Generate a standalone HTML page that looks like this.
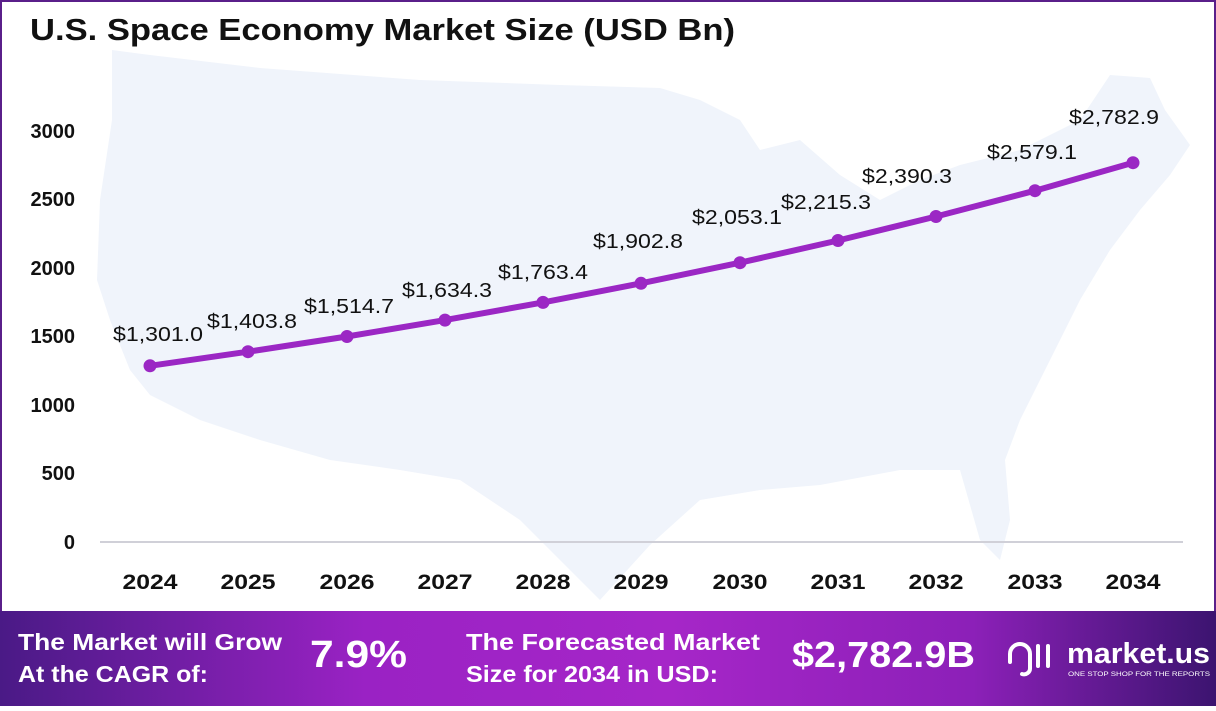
<!DOCTYPE html>
<html><head><meta charset="utf-8"><style>
html,body{margin:0;padding:0;}
body{width:1216px;height:706px;overflow:hidden;font-family:"Liberation Sans",sans-serif;}
</style></head><body>
<svg width="1216" height="706" viewBox="0 0 1216 706" xmlns="http://www.w3.org/2000/svg">
<defs>
<linearGradient id="ft" x1="0" y1="0" x2="1" y2="0">
<stop offset="0" stop-color="#4a1a86"/><stop offset="0.3" stop-color="#9a22c4"/><stop offset="0.55" stop-color="#a626c8"/><stop offset="0.8" stop-color="#8c20b8"/><stop offset="1" stop-color="#3c1470"/>
</linearGradient>
</defs>
<rect width="1216" height="706" fill="#fff"/>
<rect x="1" y="1" width="1214" height="704" fill="none" stroke="#5a1f8a" stroke-width="2"/>
<path d="M112,50 L150,55 L260,68 L420,80 L560,85 L660,88 L700,100 L740,120 L760,150 L800,140 L840,175 L880,200 L920,180 L960,165 L1020,150 L1080,120 L1110,75 L1150,78 L1165,110 L1190,145 L1170,175 L1140,210 L1110,250 L1080,300 L1060,340 L1040,380 L1020,420 L1005,460 L1010,520 L1000,560 L980,540 L960,470 L900,470 L820,485 L760,490 L700,500 L650,545 L600,600 L560,560 L520,520 L460,480 L400,470 L330,460 L260,440 L200,420 L150,395 L130,370 L110,320 L97,280 L100,200 L112,120 Z" fill="#f0f4fb"/>
<text x="30" y="40" font-size="31" font-weight="bold" fill="#111" textLength="705" lengthAdjust="spacingAndGlyphs">U.S. Space Economy Market Size (USD Bn)</text>
<g font-size="20" font-weight="bold" fill="#111" text-anchor="end">
<text x="75" y="138">3000</text><text x="75" y="206">2500</text><text x="75" y="275">2000</text><text x="75" y="343">1500</text><text x="75" y="412">1000</text><text x="75" y="480">500</text><text x="75" y="549">0</text>
</g>
<line x1="100" y1="542" x2="1183" y2="542" stroke="#d0d0d8" stroke-width="2"/>
<g font-size="21" font-weight="bold" fill="#111" text-anchor="middle">
<text x="150" y="589" textLength="55" lengthAdjust="spacingAndGlyphs">2024</text><text x="248" y="589" textLength="55" lengthAdjust="spacingAndGlyphs">2025</text><text x="347" y="589" textLength="55" lengthAdjust="spacingAndGlyphs">2026</text><text x="445" y="589" textLength="55" lengthAdjust="spacingAndGlyphs">2027</text><text x="543" y="589" textLength="55" lengthAdjust="spacingAndGlyphs">2028</text><text x="641" y="589" textLength="55" lengthAdjust="spacingAndGlyphs">2029</text><text x="740" y="589" textLength="55" lengthAdjust="spacingAndGlyphs">2030</text><text x="838" y="589" textLength="55" lengthAdjust="spacingAndGlyphs">2031</text><text x="936" y="589" textLength="55" lengthAdjust="spacingAndGlyphs">2032</text><text x="1035" y="589" textLength="55" lengthAdjust="spacingAndGlyphs">2033</text><text x="1133" y="589" textLength="55" lengthAdjust="spacingAndGlyphs">2034</text>
</g>
<polyline fill="none" stroke="#9b27c4" stroke-width="6" stroke-linejoin="round" points="150,365.8 248,351.7 347,336.5 445,320.1 543,302.4 641,283.3 740,262.7 838,240.5 936,216.5 1035,190.7 1133,162.7"/>
<g fill="#9b27c4">
<circle cx="150" cy="365.8" r="6.5"/><circle cx="248" cy="351.7" r="6.5"/><circle cx="347" cy="336.5" r="6.5"/><circle cx="445" cy="320.1" r="6.5"/><circle cx="543" cy="302.4" r="6.5"/><circle cx="641" cy="283.3" r="6.5"/><circle cx="740" cy="262.7" r="6.5"/><circle cx="838" cy="240.5" r="6.5"/><circle cx="936" cy="216.5" r="6.5"/><circle cx="1035" cy="190.7" r="6.5"/><circle cx="1133" cy="162.7" r="6.5"/>
</g>
<g font-size="20" fill="#111" text-anchor="middle">
<text x="158" y="341" textLength="90" lengthAdjust="spacingAndGlyphs">$1,301.0</text>
<text x="252" y="328" textLength="90" lengthAdjust="spacingAndGlyphs">$1,403.8</text>
<text x="349" y="313" textLength="90" lengthAdjust="spacingAndGlyphs">$1,514.7</text>
<text x="447" y="297" textLength="90" lengthAdjust="spacingAndGlyphs">$1,634.3</text>
<text x="543" y="279" textLength="90" lengthAdjust="spacingAndGlyphs">$1,763.4</text>
<text x="638" y="248" textLength="90" lengthAdjust="spacingAndGlyphs">$1,902.8</text>
<text x="737" y="224" textLength="90" lengthAdjust="spacingAndGlyphs">$2,053.1</text>
<text x="826" y="209" textLength="90" lengthAdjust="spacingAndGlyphs">$2,215.3</text>
<text x="907" y="183" textLength="90" lengthAdjust="spacingAndGlyphs">$2,390.3</text>
<text x="1032" y="159" textLength="90" lengthAdjust="spacingAndGlyphs">$2,579.1</text>
<text x="1114" y="124" textLength="90" lengthAdjust="spacingAndGlyphs">$2,782.9</text>
</g>
<rect x="0" y="611" width="1216" height="95" fill="url(#ft)"/>
<g fill="#fff" font-weight="bold">
<text x="18" y="650" font-size="23" textLength="264" lengthAdjust="spacingAndGlyphs">The Market will Grow</text>
<text x="18" y="682" font-size="23" textLength="190" lengthAdjust="spacingAndGlyphs">At the CAGR of:</text>
<text x="310" y="667" font-size="38" textLength="97" lengthAdjust="spacingAndGlyphs">7.9%</text>
<text x="466" y="650" font-size="23" textLength="294" lengthAdjust="spacingAndGlyphs">The Forecasted Market</text>
<text x="466" y="682" font-size="23" textLength="252" lengthAdjust="spacingAndGlyphs">Size for 2034 in USD:</text>
<text x="792" y="667" font-size="36" textLength="183" lengthAdjust="spacingAndGlyphs">$2,782.9B</text>
<text x="1067" y="663" font-size="29" textLength="143" lengthAdjust="spacingAndGlyphs">market.us</text>
<text x="1068" y="676" font-size="6.5" font-weight="normal" textLength="142" lengthAdjust="spacingAndGlyphs">ONE STOP SHOP FOR THE REPORTS</text>
</g>
<g fill="none" stroke="#fff" stroke-width="4" stroke-linecap="round">
<path d="M1010,662 v-8 a10,10 0 0 1 20,0 v14 a6,6 0 0 1 -8,6"/>
<line x1="1038" y1="646" x2="1038" y2="666"/>
<line x1="1048" y1="646" x2="1048" y2="666"/>
</g>
</svg>
</body></html>
